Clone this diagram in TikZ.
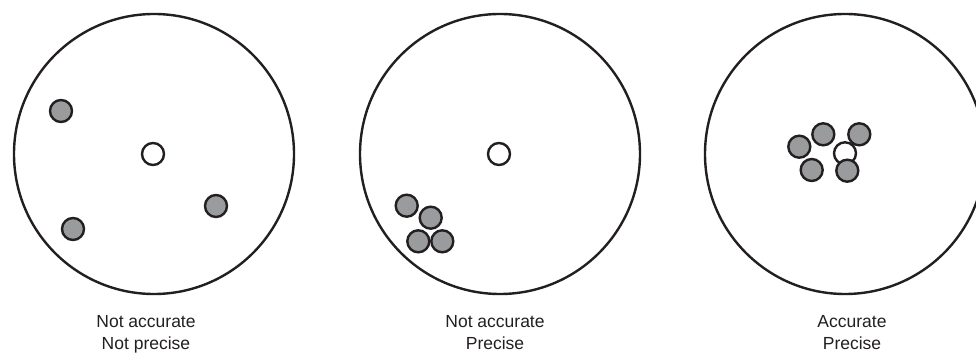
\documentclass[tikz,border=0pt]{standalone}
\usepackage{fontspec}
\setmainfont{Liberation Sans}
\usepackage{xcolor}
\usepackage{tikz}
\definecolor{inkcolor}{HTML}{231F20}
\definecolor{shotcolor}{HTML}{9A9B9D}
\tikzset{target/.style={draw=inkcolor,circle,line width=2.4pt,minimum size=280pt,inner sep=0pt},bull/.style={draw=inkcolor,fill=white,circle,line width=2.4pt,minimum size=22pt,inner sep=0pt},shot/.style={bull,fill=shotcolor},caption/.style={font=\fontsize{17.5}{22.7}\selectfont,align=center,text=inkcolor,inner sep=0pt,anchor=base}}

\begin{document}
\begin{tikzpicture}[x=1pt,y=1pt]
 \useasboundingbox (0,0) rectangle (976,353);
 % three targets with their centres
 \foreach \t/\xx in {1/154,2/500,3/845} {
   \node[target] (target\t) at (\xx,199) {};
 }
 \node[bull] (bull1) at (153,199) {};
 \node[bull] (bull2) at (499,199) {};
 \node[bull] (bull3) at (845,199.7) {};
 % not accurate, not precise
 \foreach \i/\xx/\yy in {1/61/242,2/73/124,3/216/147} {
   \node[shot] (s1\i) at (\xx,\yy) {};
 }
 % not accurate, precise
 \foreach \i/\xx/\yy in {1/406.7/147.3,2/430.7/135.3,3/418.3/111.7,4/442.3/111.7} {
   \node[shot] (s2\i) at (\xx,\yy) {};
 }
 % accurate, precise
 \foreach \i/\xx/\yy in {1/799.3/206.3,2/823.3/218.7,3/859.3/218.7,4/811.7/183,5/847.3/182.3} {
   \node[shot] (s3\i) at (\xx,\yy) {};
 }
 \node[caption] (cap1) at (146,3) {Not accurate\\Not precise};
 \node[caption] (cap2) at (495,3) {Not accurate\\Precise};
 \node[caption] (cap3) at (852,3) {Accurate\\Precise};
\end{tikzpicture}
\end{document}
